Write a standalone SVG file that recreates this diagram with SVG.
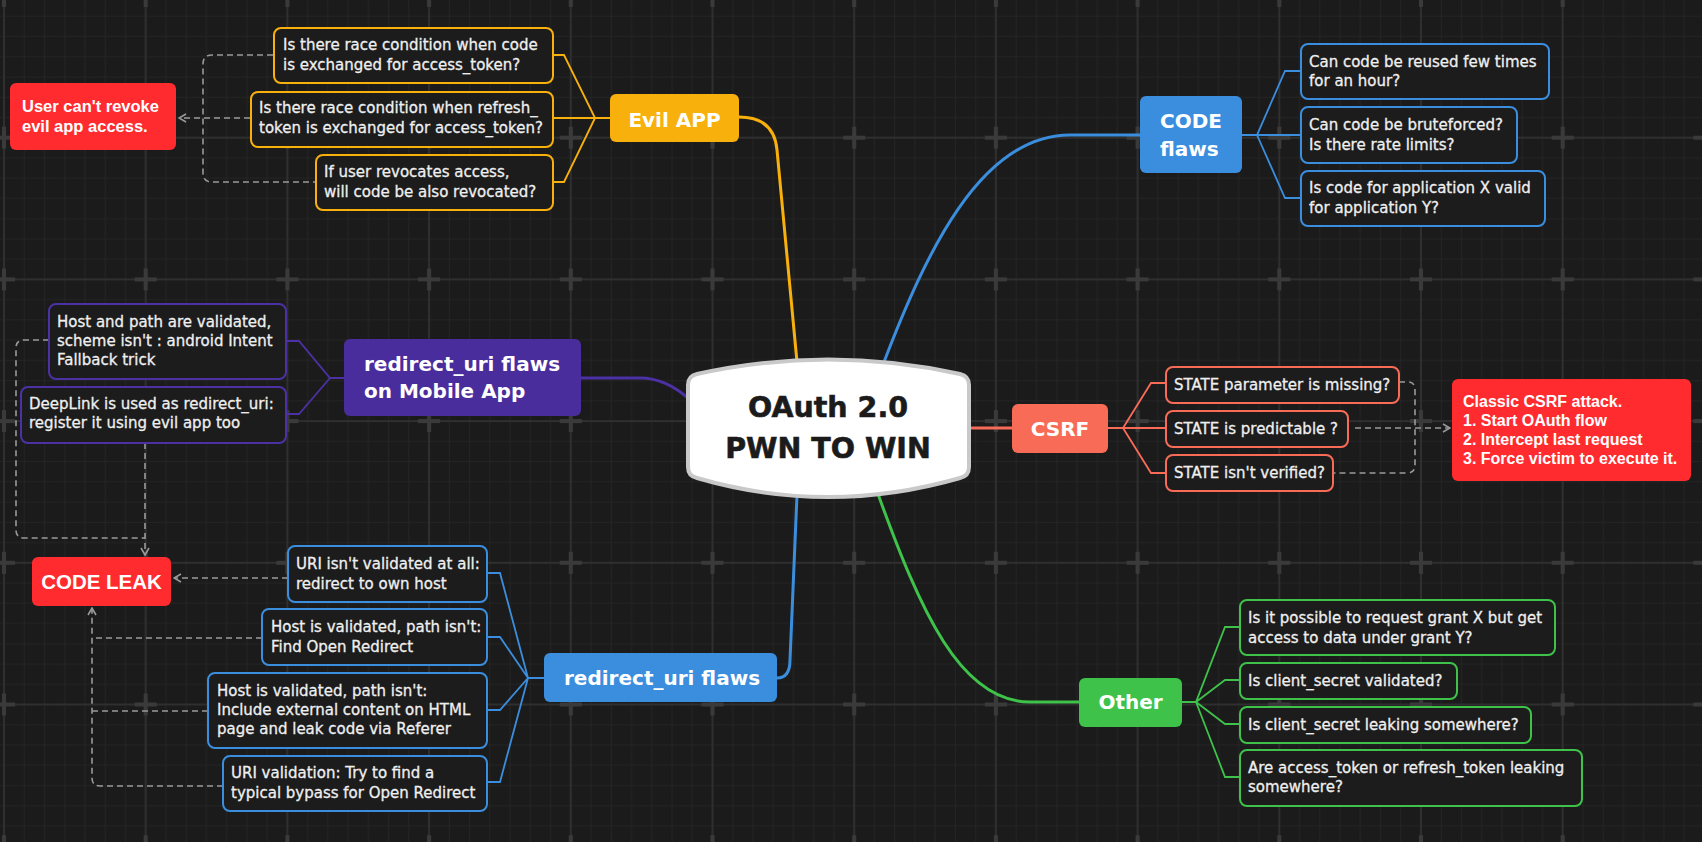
<svg xmlns="http://www.w3.org/2000/svg" width="1702" height="842" viewBox="0 0 1702 842">
<style>
.tb{font-family:"DejaVu Sans",sans-serif;font-size:15px;fill:#efefef;stroke:#efefef;stroke-width:0.3}
.tt{font-family:"DejaVu Sans",sans-serif;font-weight:bold;font-size:20px;fill:#ffffff}
.tr{font-family:"Liberation Sans",Arial,sans-serif;font-weight:bold;font-size:16.5px;fill:#ffffff}
.tr16{font-size:16px}
.tr20{font-size:20.5px}
.box{fill:#1c1c1c;stroke-width:2}
.o{stroke:#f8b00c}.b{stroke:#3b8ede}.p{stroke:#4b31a3}.g{stroke:#3ec24a}.s{stroke:#f86b57}
.br{fill:none;stroke-width:1.8}
.main{fill:none;stroke-width:3}
.dash{fill:none;stroke:#9a9a9a;stroke-width:1.6;stroke-dasharray:6 4}
</style>
<defs>
<pattern id="grid" width="141.7" height="141.7" patternUnits="userSpaceOnUse" x="4" y="-4">
<path d="M20.24,0V141.7M40.49,0V141.7M60.73,0V141.7M80.97,0V141.7M101.21,0V141.7M121.46,0V141.7M0,20.24H141.7M0,40.49H141.7M0,60.73H141.7M0,80.97H141.7M0,101.21H141.7M0,121.46H141.7" stroke="#242424" stroke-width="1" fill="none"/>
<path d="M0,0V141.7M141.7,0V141.7M0,0H141.7M0,141.7H141.7" stroke="#2f2f2f" stroke-width="2" fill="none"/>
<path d="M0,0H11M0,0V11M130.7,0H141.7M141.7,0V11M0,141.7H11M0,130.7V141.7M130.7,141.7H141.7M141.7,130.7V141.7" stroke="#3a3a3a" stroke-width="4" fill="none"/>
</pattern>
<marker id="arr" viewBox="0 0 10 10" refX="9" refY="5" markerWidth="10" markerHeight="10" markerUnits="userSpaceOnUse" orient="auto">
<path d="M2,1L9,5L2,9" fill="none" stroke="#9a9a9a" stroke-width="1.6"/>
</marker>
</defs>
<rect width="1702" height="842" fill="#1b1b1b"/>
<rect width="1702" height="842" fill="url(#grid)"/>

<g id="connectors">
<path class="main o" d="M739,117 Q774,117 777,150 L797,362"/>
<path class="main b" d="M884,362 C925,255 980,135 1070,135 L1140,135"/>
<path class="main p" d="M581,378 L640,378 C660,378 676,387 690,400"/>
<path class="main b" d="M777,678 Q790,678 790,660 L797,495"/>
<path class="main g" d="M878,494 C920,610 960,702 1030,702 L1079,702"/>
<path class="main s" d="M969,428 H1012"/>
<path class="br o" d="M553,55 H564 L595,118 M553,118 H610 M553,182 H564 L595,118"/>
<path class="br b" d="M1242,135 H1257 L1285,71 H1301 M1257,135 H1301 M1257,135 L1285,198 H1301"/>
<path class="br p" d="M344,378 H330 L299,341 H286 M330,378 L299,414 H286"/>
<path class="br b" d="M544,678 H528 L500,573 H487 M528,678 L500,637 H487 M528,678 L500,710 H487 M528,678 L500,782 H487"/>
<path class="br g" d="M1182,702 H1196 L1225,627 H1240 M1196,702 L1225,680 H1240 M1196,702 L1225,724 H1240 M1196,702 L1225,777 H1240"/>
<path class="br s" d="M1108,428 H1123 L1151,383 H1166 M1123,428 H1166 M1123,428 L1151,473 H1166"/>
<path class="dash" d="M273,55 H212 Q203,55 203,64 V173 Q203,182 212,182 H316"/>
<path class="dash" d="M250,118 H179" marker-end="url(#arr)"/>
<path class="dash" d="M49,340 H24 Q16,340 16,348 V530 Q16,538 24,538 H145"/>
<path class="dash" d="M145,443 V555" marker-end="url(#arr)"/>
<path class="dash" d="M288,578 H174" marker-end="url(#arr)"/>
<path class="dash" d="M262,638 H92 M208,711 H92"/>
<path class="dash" d="M223,786 H100 Q92,786 92,778 V608" marker-end="url(#arr)"/>
<path class="dash" d="M1399,382 H1408 Q1415,382 1415,390 V465 Q1415,473 1407,473 H1334"/>
<path class="dash" d="M1355,428 H1450" marker-end="url(#arr)"/>
</g>

<g id="root">
<path d="M688,385 Q688,376 697,374 Q828,345 960,374 Q969,376 969,385 L969,467 Q969,476 960,478 Q828,516 697,478 Q688,476 688,467 Z" fill="#ffffff" stroke="#c9c9c9" stroke-width="4"/>
<text x="828" y="417" text-anchor="middle" font-family="DejaVu Sans,sans-serif" font-weight="bold" font-size="28.5" fill="#1b1b1b" stroke="#1b1b1b" stroke-width="0.6">OAuth 2.0</text>
<text x="828" y="458" text-anchor="middle" font-family="DejaVu Sans,sans-serif" font-weight="bold" font-size="28.5" fill="#1b1b1b" stroke="#1b1b1b" stroke-width="0.6">PWN TO WIN</text>
</g>

<g id="evil-app">
<rect x="610" y="94" width="129" height="48" rx="6" fill="#f8b00c"/>
<text class="tt" x="674.5" y="126.5" text-anchor="middle">Evil APP</text>
</g>
<g id="evil-1"><rect class="box o" x="274" y="28" width="279" height="55" rx="7"/>
<text class="tb" x="283" y="50">Is there race condition when code</text><text class="tb" x="283" y="70">is exchanged for access_token?</text></g>
<g id="evil-2"><rect class="box o" x="251" y="92" width="302" height="55" rx="7"/>
<text class="tb" x="259" y="113">Is there race condition when refresh_</text><text class="tb" x="259" y="133">token is exchanged for access_token?</text></g>
<g id="evil-3"><rect class="box o" x="316" y="155" width="237" height="55" rx="7"/>
<text class="tb" x="324" y="177">If user revocates access,</text><text class="tb" x="324" y="197">will code be also revocated?</text></g>
<g id="revoke">
<rect x="10" y="83" width="166" height="67" rx="6" fill="#ff2b2f"/>
<text class="tr" x="22" y="112">User can't revoke</text><text class="tr" x="22" y="132">evil app access.</text></g>

<g id="code-flaws">
<rect x="1140" y="96" width="102" height="77" rx="6" fill="#3b8ede"/>
<text class="tt" x="1160" y="128">CODE</text><text class="tt" x="1160" y="156">flaws</text></g>
<g id="code-1"><rect class="box b" x="1301" y="44" width="248" height="55" rx="7"/>
<text class="tb" x="1309" y="66.5">Can code be reused few times</text><text class="tb" x="1309" y="86">for an hour?</text></g>
<g id="code-2"><rect class="box b" x="1301" y="107" width="216" height="56" rx="7"/>
<text class="tb" x="1309" y="130">Can code be bruteforced?</text><text class="tb" x="1309" y="149.5">Is there rate limits?</text></g>
<g id="code-3"><rect class="box b" x="1301" y="171" width="244" height="55" rx="7"/>
<text class="tb" x="1309" y="193">Is code for application X valid</text><text class="tb" x="1309" y="213">for application Y?</text></g>

<g id="mobile">
<rect x="344" y="339" width="237" height="77" rx="6" fill="#4a2d9c"/>
<text class="tt" x="364" y="371">redirect_uri flaws</text><text class="tt" x="364" y="398">on Mobile App</text></g>
<g id="mobile-1"><rect class="box p" x="49" y="304" width="237" height="75" rx="7"/>
<text class="tb" x="57" y="327">Host and path are validated,</text><text class="tb" x="57" y="346">scheme isn't : android Intent</text><text class="tb" x="57" y="365">Fallback trick</text></g>
<g id="mobile-2"><rect class="box p" x="21" y="387" width="265" height="56" rx="7"/>
<text class="tb" x="29" y="409">DeepLink is used as redirect_uri:</text><text class="tb" x="29" y="428">register it using evil app too</text></g>

<g id="code-leak">
<rect x="32" y="557" width="139" height="49" rx="6" fill="#ff2b2f"/>
<text class="tr tr20" x="101.5" y="589" text-anchor="middle">CODE LEAK</text></g>

<g id="redirect">
<rect x="544" y="653" width="233" height="49" rx="6" fill="#3b8ede"/>
<text class="tt" x="564" y="685">redirect_uri flaws</text></g>
<g id="redirect-1"><rect class="box b" x="288" y="546" width="199" height="56" rx="7"/>
<text class="tb" x="296" y="569">URI isn't validated at all:</text><text class="tb" x="296" y="589">redirect to own host</text></g>
<g id="redirect-2"><rect class="box b" x="262" y="609" width="225" height="56" rx="7"/>
<text class="tb" x="271" y="632">Host is validated, path isn't:</text><text class="tb" x="271" y="652">Find Open Redirect</text></g>
<g id="redirect-3"><rect class="box b" x="208" y="673" width="279" height="75" rx="7"/>
<text class="tb" x="217" y="696">Host is validated, path isn't:</text><text class="tb" x="217" y="715">Include external content on HTML</text><text class="tb" x="217" y="734">page and leak code via Referer</text></g>
<g id="redirect-4"><rect class="box b" x="223" y="756" width="264" height="55" rx="7"/>
<text class="tb" x="231" y="778">URI validation: Try to find a</text><text class="tb" x="231" y="798">typical bypass for Open Redirect</text></g>

<g id="csrf">
<rect x="1012" y="404" width="96" height="49" rx="6" fill="#f86b57"/>
<text class="tt" x="1060" y="436" text-anchor="middle">CSRF</text></g>
<g id="csrf-1"><rect class="box s" x="1166" y="367" width="233" height="36" rx="7"/>
<text class="tb" x="1174" y="390">STATE parameter is missing?</text></g>
<g id="csrf-2"><rect class="box s" x="1166" y="411" width="182" height="36" rx="7"/>
<text class="tb" x="1174" y="434">STATE is predictable ?</text></g>
<g id="csrf-3"><rect class="box s" x="1166" y="455" width="167" height="36" rx="7"/>
<text class="tb" x="1174" y="478">STATE isn't verified?</text></g>
<g id="csrf-attack">
<rect x="1452" y="379" width="239" height="102" rx="6" fill="#ff2b2f"/>
<text class="tr tr16" x="1463" y="406.5">Classic CSRF attack.</text>
<text class="tr tr16" x="1463" y="425.5">1. Start OAuth flow</text>
<text class="tr tr16" x="1463" y="444.5">2. Intercept last request</text>
<text class="tr tr16" x="1463" y="463.5">3. Force victim to execute it.</text></g>

<g id="other">
<rect x="1079" y="678" width="103" height="49" rx="6" fill="#3ec24a"/>
<text class="tt" x="1130.5" y="709" text-anchor="middle">Other</text></g>
<g id="other-1"><rect class="box g" x="1240" y="600" width="315" height="55" rx="7"/>
<text class="tb" x="1248" y="622.5">Is it possible to request grant X but get</text><text class="tb" x="1248" y="642.5">access to data under grant Y?</text></g>
<g id="other-2"><rect class="box g" x="1240" y="663" width="217" height="36" rx="7"/>
<text class="tb" x="1248" y="685.5">Is client_secret validated?</text></g>
<g id="other-3"><rect class="box g" x="1240" y="707" width="291" height="36" rx="7"/>
<text class="tb" x="1248" y="729.5">Is client_secret leaking somewhere?</text></g>
<g id="other-4"><rect class="box g" x="1240" y="750" width="342" height="56" rx="7"/>
<text class="tb" x="1248" y="772.5">Are access_token or refresh_token leaking</text><text class="tb" x="1248" y="792">somewhere?</text></g>
</svg>
